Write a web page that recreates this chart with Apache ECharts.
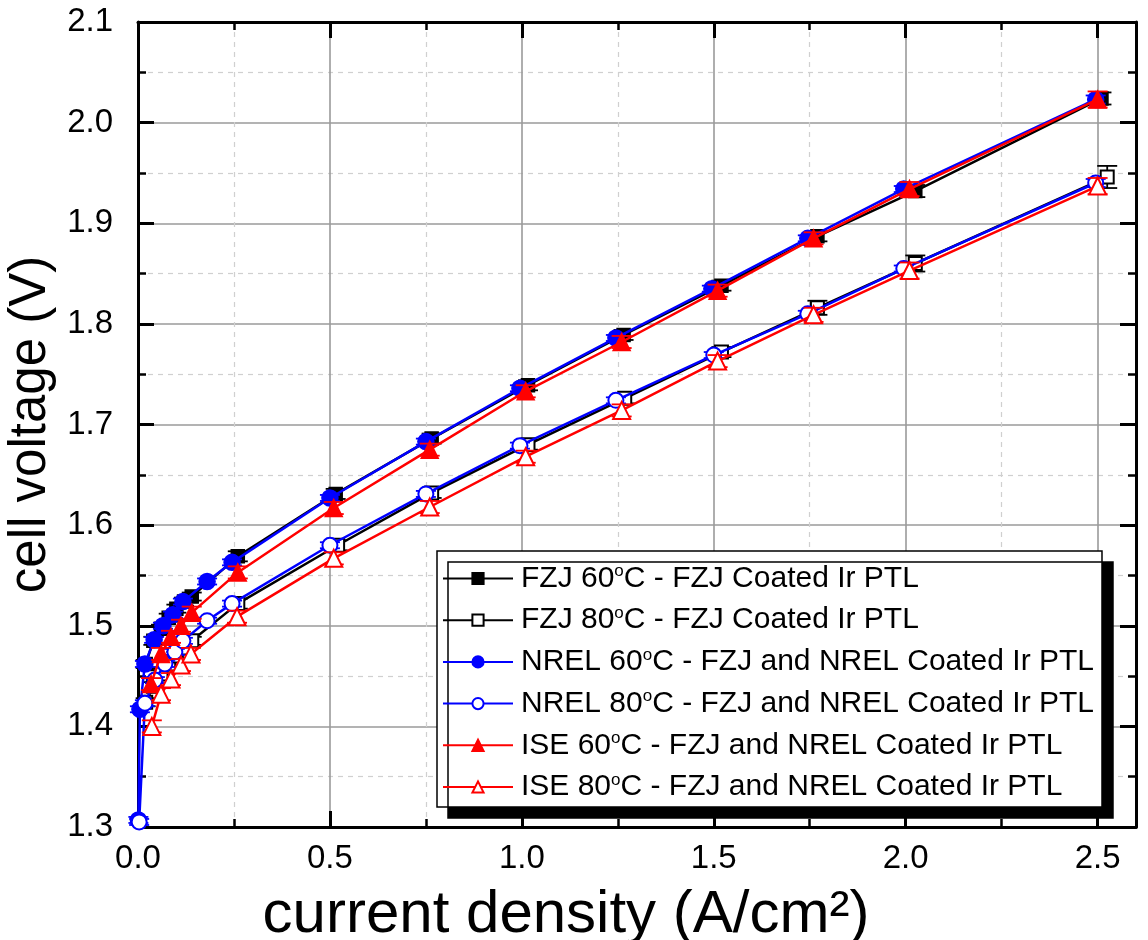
<!DOCTYPE html>
<html>
<head>
<meta charset="utf-8">
<script src="https://cdn.jsdelivr.net/npm/echarts@6/dist/echarts.min.js"></script>
<style>html,body{margin:0;padding:0;background:#fff;}#c{width:1148px;height:940px;}</style>
</head>
<body>
<div id="c"></div>
<script>
// ---- data: [current density (A/cm2), cell voltage (V)] ----
const fzj60 = [[0.02,1.462],[0.04,1.485],[0.06,1.497],[0.08,1.508],[0.10,1.517],[0.12,1.524],[0.14,1.529],[0.26,1.569],[0.515,1.631],[0.765,1.686],[1.016,1.739],[1.265,1.789],[1.52,1.838],[1.77,1.887],[2.025,1.932],[2.51,2.024]];
const fzj60Err = [0.004,0.004,0.004,0.004,0.004,0.004,0.004,0.005,0.005,0.005,0.005,0.005,0.005,0.005,0.006,0.006];
const fzj80 = [[0.02,1.424],[0.04,1.440],[0.06,1.452],[0.08,1.462],[0.10,1.470],[0.12,1.478],[0.14,1.485],[0.26,1.522],[0.52,1.580],[0.765,1.632],[1.016,1.680],[1.268,1.726],[1.52,1.772],[1.77,1.816],[2.025,1.860],[2.525,1.946]];
const fzj80Err = [0.004,0.004,0.004,0.004,0.004,0.004,0.004,0.005,0.005,0.005,0.005,0.005,0.005,0.007,0.008,0.011];
const nrel60 = [[0.001,1.307],[0.005,1.417],[0.018,1.462],[0.042,1.486],[0.065,1.500],[0.091,1.511],[0.117,1.524],[0.18,1.544],[0.245,1.563],[0.50,1.627],[0.75,1.683],[0.995,1.736],[1.245,1.786],[1.495,1.835],[1.745,1.885],[1.995,1.934],[2.495,2.023]];
const nrel60Err = [0.003,0.003,0.003,0.003,0.003,0.003,0.003,0.003,0.003,0.003,0.003,0.003,0.003,0.003,0.003,0.003,0.004];
const nrel80 = [[0.003,1.305],[0.018,1.423],[0.044,1.446],[0.070,1.462],[0.096,1.474],[0.117,1.485],[0.18,1.505],[0.245,1.522],[0.50,1.580],[0.75,1.631],[0.995,1.679],[1.245,1.724],[1.50,1.769],[1.745,1.810],[1.995,1.855],[2.495,1.940]];
const nrel80Err = [0.003,0.003,0.003,0.003,0.003,0.003,0.003,0.003,0.003,0.003,0.003,0.003,0.003,0.003,0.003,0.004];
const ise60 = [[0.034,1.442],[0.060,1.472],[0.086,1.489],[0.112,1.500],[0.14,1.513],[0.26,1.553],[0.51,1.617],[0.76,1.675],[1.01,1.733],[1.26,1.782],[1.51,1.833],[1.76,1.885],[2.01,1.934],[2.50,2.023]];
const ise60Err = [0.006,0.006,0.006,0.006,0.006,0.006,0.006,0.006,0.006,0.006,0.006,0.006,0.007,0.008];
const ise80 = [[0.036,1.400],[0.060,1.432],[0.086,1.447],[0.112,1.461],[0.138,1.472],[0.258,1.509],[0.51,1.567],[0.76,1.618],[1.01,1.668],[1.26,1.714],[1.51,1.763],[1.76,1.809],[2.01,1.853],[2.50,1.937]];
const ise80Err = [0.006,0.006,0.006,0.006,0.006,0.006,0.006,0.006,0.006,0.006,0.006,0.007,0.008,0.008];

const names = [
  'FZJ 60{s|o}C - FZJ Coated Ir PTL',
  'FZJ 80{s|o}C - FZJ Coated Ir PTL',
  'NREL 60{s|o}C - FZJ and NREL Coated Ir PTL',
  'NREL 80{s|o}C - FZJ and NREL Coated Ir PTL',
  'ISE 60{s|o}C - FZJ and NREL Coated Ir PTL',
  'ISE 80{s|o}C - FZJ and NREL Coated Ir PTL'
];
const xTicks = ['0.0','0.5','1.0','1.5','2.0','2.5'];

const defs = [
  {d: fzj60, e: fzj60Err, c: '#000000', sym: 'rect', size: 13},
  {d: fzj80, e: fzj80Err, c: '#000000', sym: 'emptyRect', size: 13},
  {d: nrel60, e: nrel60Err, c: '#0000ff', sym: 'circle', size: 16},
  {d: nrel80, e: nrel80Err, c: '#0000ff', sym: 'emptyCircle', size: 15},
  {d: ise60, e: ise60Err, c: '#ff0000', sym: 'triangle', size: 17},
  {d: ise80, e: ise80Err, c: '#ff0000', sym: 'emptyTriangle', size: 17}
];

const series = [];
defs.forEach((s, i) => {
  series.push({
    type: 'custom', silent: true, z: 2 + i * 2,
    xAxisIndex: 0, yAxisIndex: 0,
    data: s.d.map((p, k) => [p[0], p[1], s.e[k]]),
    renderItem: function (params, api) {
      const x = api.value(0), y = api.value(1), e = api.value(2);
      const top = api.coord([x, y + e]);
      const bot = api.coord([x, y - e]);
      const hw = 10;
      const st = {stroke: s.c, lineWidth: 1.8, fill: null};
      return {type: 'group', children: [
        {type: 'line', shape: {x1: top[0], y1: top[1], x2: bot[0], y2: bot[1]}, style: st},
        {type: 'line', shape: {x1: top[0] - hw, y1: top[1], x2: top[0] + hw, y2: top[1]}, style: st},
        {type: 'line', shape: {x1: bot[0] - hw, y1: bot[1], x2: bot[0] + hw, y2: bot[1]}, style: st}
      ]};
    }
  });
  series.push({
    name: names[i], type: 'line', z: 3 + i * 2,
    xAxisIndex: 0, yAxisIndex: 0,
    data: s.d, symbol: s.sym, symbolSize: s.size, showSymbol: true,
    lineStyle: {color: s.c, width: 2.5},
    itemStyle: {color: s.c, borderColor: s.c, borderWidth: 1.5},
    emphasis: {disabled: true}, animation: false
  });
});

const axisCommon = {
  axisLine: {show: true, onZero: false, lineStyle: {color: '#000', width: 3}},
  axisTick: {show: true, inside: true, length: 16, lineStyle: {color: '#000', width: 3}},
  minorTick: {show: true, splitNumber: 2, length: 8, lineStyle: {color: '#000', width: 2.5}}
};

const chart = echarts.init(document.getElementById('c'), null, {renderer: 'canvas'});
chart.setOption({
  animation: false,
  backgroundColor: '#fff',
  grid: {left: 138, right: 12, top: 22, bottom: 113, containLabel: false, outerBoundsMode: 'none'},
  xAxis: [
    Object.assign({}, axisCommon, {
      type: 'value', min: 0, max: 2.6, interval: 0.5, position: 'bottom',
      name: 'current density (A/cm²)', nameLocation: 'middle', nameGap: 58,
      nameTextStyle: {fontFamily: 'Liberation Sans', fontSize: 60, color: '#000', padding: [0, 142, 0, 0]},
      axisLabel: {fontFamily: 'Liberation Sans', fontSize: 33, color: '#000', margin: 15,
        formatter: v => { const k = Math.round(v / 0.5); return (Math.abs(v - k * 0.5) < 1e-6 && k < xTicks.length) ? xTicks[k] : ''; }},
      splitLine: {show: true, lineStyle: {color: '#9a9a9a', width: 1.6}},
      minorSplitLine: {show: true, lineStyle: {color: '#d0d0d0', width: 1.2, type: [5, 5]}}
    }),
    Object.assign({}, axisCommon, {
      type: 'value', min: 0, max: 2.6, interval: 0.5, position: 'top',
      axisLabel: {show: false}, splitLine: {show: false}
    })
  ],
  yAxis: [
    Object.assign({}, axisCommon, {
      type: 'value', min: 1.3, max: 2.1, interval: 0.1, position: 'left',
      name: 'cell voltage (V)', nameLocation: 'middle', nameGap: 64,
      nameTextStyle: {fontFamily: 'Liberation Sans', fontSize: 51, color: '#000'},
      axisLabel: {fontFamily: 'Liberation Sans', fontSize: 33, color: '#000', margin: 25,
        formatter: v => v.toFixed(1)},
      splitLine: {show: true, lineStyle: {color: '#9a9a9a', width: 1.6}},
      minorSplitLine: {show: true, lineStyle: {color: '#d0d0d0', width: 1.2, type: [5, 5]}}
    }),
    Object.assign({}, axisCommon, {
      type: 'value', min: 1.3, max: 2.1, interval: 0.1, position: 'right',
      axisLabel: {show: false}, splitLine: {show: false}
    })
  ],
  legend: {
    show: true, orient: 'vertical', left: 437, top: 551,
    data: names,
    itemWidth: 70, itemHeight: 14, itemGap: 11.2,
    padding: [12, 8, 5, 5],
    backgroundColor: '#fff', borderColor: '#000', borderWidth: 1.5,
    shadowColor: '#000', shadowBlur: 0, shadowOffsetX: 11, shadowOffsetY: 11,
    selectedMode: false,
    textStyle: {fontFamily: 'Liberation Sans', fontSize: 30, color: '#000', padding: [0, 0, 0, 3],
      rich: {s: {fontFamily: 'Liberation Sans', fontSize: 17, verticalAlign: 'top', padding: [0, 0, 14, 0], color: '#000'}}}
  },
  series: series
});
</script>
</body>
</html>
